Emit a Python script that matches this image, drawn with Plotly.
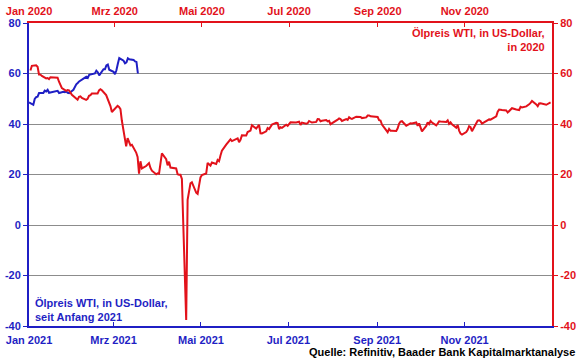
import plotly.graph_objects as go

# WTI 2020 (top axis, right y-axis)
red_dates = [
 "2020-01-02","2020-01-03","2020-01-06","2020-01-07","2020-01-08","2020-01-09","2020-01-10","2020-01-13","2020-01-14","2020-01-15","2020-01-16","2020-01-17","2020-01-21","2020-01-22","2020-01-23","2020-01-24","2020-01-27","2020-01-28","2020-01-29","2020-01-30","2020-01-31",
 "2020-02-03","2020-02-04","2020-02-05","2020-02-06","2020-02-07","2020-02-10","2020-02-11","2020-02-12","2020-02-13","2020-02-14","2020-02-18","2020-02-19","2020-02-20","2020-02-21","2020-02-24","2020-02-25","2020-02-26","2020-02-27","2020-02-28",
 "2020-03-02","2020-03-03","2020-03-04","2020-03-05","2020-03-06","2020-03-09","2020-03-10","2020-03-11","2020-03-12","2020-03-13","2020-03-16","2020-03-17","2020-03-18","2020-03-19","2020-03-20","2020-03-23","2020-03-24","2020-03-25","2020-03-26","2020-03-27","2020-03-30","2020-03-31",
 "2020-04-01","2020-04-02","2020-04-03","2020-04-06","2020-04-07","2020-04-08","2020-04-09","2020-04-13","2020-04-14","2020-04-15","2020-04-16","2020-04-17","2020-04-20","2020-04-21","2020-04-22","2020-04-23","2020-04-24","2020-04-27","2020-04-28","2020-04-29","2020-04-30",
 "2020-05-01","2020-05-04","2020-05-05","2020-05-06","2020-05-07","2020-05-08","2020-05-11","2020-05-12","2020-05-13","2020-05-14","2020-05-15","2020-05-18","2020-05-19","2020-05-20","2020-05-21","2020-05-22","2020-05-26","2020-05-27","2020-05-28","2020-05-29",
 "2020-06-01","2020-06-02","2020-06-03","2020-06-04","2020-06-05","2020-06-08","2020-06-09","2020-06-10","2020-06-11","2020-06-12","2020-06-15","2020-06-16","2020-06-17","2020-06-18","2020-06-19","2020-06-22","2020-06-23","2020-06-24","2020-06-25","2020-06-26","2020-06-29","2020-06-30",
 "2020-07-01","2020-07-02","2020-07-06","2020-07-07","2020-07-08","2020-07-09","2020-07-10","2020-07-13","2020-07-14","2020-07-15","2020-07-16","2020-07-17","2020-07-20","2020-07-21","2020-07-22","2020-07-23","2020-07-24","2020-07-27","2020-07-28","2020-07-29","2020-07-30","2020-07-31",
 "2020-08-03","2020-08-04","2020-08-05","2020-08-06","2020-08-07","2020-08-10","2020-08-11","2020-08-12","2020-08-13","2020-08-14","2020-08-17","2020-08-18","2020-08-19","2020-08-20","2020-08-21","2020-08-24","2020-08-25","2020-08-26","2020-08-27","2020-08-28","2020-08-31",
 "2020-09-01","2020-09-02","2020-09-03","2020-09-04","2020-09-08","2020-09-09","2020-09-10","2020-09-11","2020-09-14","2020-09-15","2020-09-16","2020-09-17","2020-09-18","2020-09-21","2020-09-22","2020-09-23","2020-09-24","2020-09-25","2020-09-28","2020-09-29","2020-09-30",
 "2020-10-01","2020-10-02","2020-10-05","2020-10-06","2020-10-07","2020-10-08","2020-10-09","2020-10-12","2020-10-13","2020-10-14","2020-10-15","2020-10-16","2020-10-19","2020-10-20","2020-10-21","2020-10-22","2020-10-23","2020-10-26","2020-10-27","2020-10-28","2020-10-29","2020-10-30",
 "2020-11-02","2020-11-03","2020-11-04","2020-11-05","2020-11-06","2020-11-09","2020-11-10","2020-11-11","2020-11-12","2020-11-13","2020-11-16","2020-11-17","2020-11-18","2020-11-19","2020-11-20","2020-11-23","2020-11-24","2020-11-25","2020-11-27","2020-11-30",
 "2020-12-01","2020-12-02","2020-12-03","2020-12-04","2020-12-07","2020-12-08","2020-12-09","2020-12-10","2020-12-11","2020-12-14","2020-12-15","2020-12-16","2020-12-17","2020-12-18","2020-12-21","2020-12-22","2020-12-23","2020-12-24","2020-12-28","2020-12-29","2020-12-30","2020-12-31",
]
red_values = [
 61.18,63.05,63.27,62.70,59.61,59.56,59.04,58.08,58.23,57.81,58.52,58.54,58.34,56.74,55.59,54.19,53.14,53.48,53.33,52.14,51.56,
 50.11,49.61,50.75,50.95,50.32,49.57,49.94,51.17,51.42,52.05,52.05,53.29,53.78,53.38,51.43,49.90,48.73,47.09,44.76,
 46.75,47.18,46.78,45.90,41.28,31.13,34.36,32.98,31.50,31.73,28.70,26.95,20.37,25.22,22.43,23.36,24.01,24.49,22.60,21.51,20.09,20.48,
 20.31,25.32,28.34,26.08,23.63,25.09,22.76,22.41,20.11,19.87,19.87,18.27,-37.63,10.01,13.78,16.50,16.94,12.78,12.34,15.06,18.84,
 19.78,20.39,24.56,23.99,23.55,24.74,24.14,25.78,25.29,27.56,29.43,31.82,32.50,33.49,33.92,33.25,34.35,32.81,33.71,35.49,
 35.44,36.81,37.29,37.41,39.55,38.19,38.94,39.60,36.34,36.26,37.12,38.38,37.96,38.84,39.75,40.46,40.37,38.01,38.72,38.49,39.70,39.27,
 39.82,40.65,40.63,40.62,40.90,39.62,40.55,40.10,40.29,41.20,40.75,40.59,40.81,41.96,41.90,41.07,41.29,41.60,41.04,41.27,39.92,40.27,
 41.01,41.70,42.19,41.95,41.22,41.94,41.61,42.67,42.24,42.01,42.89,42.89,42.93,42.82,42.34,42.62,43.35,43.39,43.04,42.97,42.61,
 42.76,41.51,41.37,39.77,36.76,38.05,37.30,37.33,37.26,38.28,40.16,40.97,41.11,39.31,39.80,39.93,40.31,40.25,40.60,39.29,40.22,
 38.72,37.05,39.22,40.67,39.95,41.19,40.60,39.43,40.20,41.04,40.96,40.88,40.83,41.46,40.03,40.64,39.85,38.56,39.57,37.39,36.17,35.79,
 36.81,37.66,39.15,38.79,37.14,40.29,41.36,41.45,41.12,40.13,41.34,41.43,41.82,41.74,42.15,43.06,44.91,45.71,45.53,45.34,
 44.55,45.28,45.64,46.26,45.76,45.60,45.52,46.78,46.57,46.99,47.62,47.82,48.36,49.10,47.74,47.02,48.12,48.23,47.62,48.00,48.40,48.52,
]

# WTI since start of 2021 (bottom axis, left y-axis)
blue_dates = [
 "2021-01-01","2021-01-04","2021-01-05","2021-01-06","2021-01-07","2021-01-08","2021-01-11","2021-01-12","2021-01-13","2021-01-14","2021-01-15","2021-01-19","2021-01-20","2021-01-21","2021-01-22","2021-01-25","2021-01-26","2021-01-27","2021-01-28","2021-01-29",
 "2021-02-01","2021-02-02","2021-02-03","2021-02-04","2021-02-05","2021-02-08","2021-02-09","2021-02-10","2021-02-11","2021-02-12","2021-02-16","2021-02-17","2021-02-18","2021-02-19","2021-02-22","2021-02-23","2021-02-24","2021-02-25","2021-02-26",
 "2021-03-01","2021-03-02","2021-03-03","2021-03-04","2021-03-05","2021-03-08","2021-03-09","2021-03-10","2021-03-11","2021-03-12","2021-03-15","2021-03-16","2021-03-17","2021-03-18",
]
blue_values = [
 48.52,47.62,49.93,50.63,50.83,52.24,52.25,53.21,52.91,53.57,52.36,52.98,53.24,53.13,52.27,52.77,52.61,52.85,52.34,52.20,
 53.55,54.76,55.69,56.23,56.85,57.97,58.36,58.68,58.24,59.47,60.05,61.14,60.52,59.24,61.70,61.67,63.22,63.53,61.50,
 60.64,59.75,61.28,63.83,66.09,65.05,64.01,64.44,66.02,65.61,65.39,64.80,64.60,60.00,
]

top_tickvals = ["2020-01-01","2020-03-01","2020-05-01","2020-07-01","2020-09-01","2020-11-01"]
top_ticktext = ["Jan 2020","Mrz 2020","Mai 2020","Jul 2020","Sep 2020","Nov 2020"]
bot_tickvals = ["2021-01-01","2021-03-01","2021-05-01","2021-07-01","2021-09-01","2021-11-01"]
bot_ticktext = ["Jan 2021","Mrz 2021","Mai 2021","Jul 2021","Sep 2021","Nov 2021"]
y_tickvals = [-40, -20, 0, 20, 40, 60, 80]
y_ticktext = ["-40", "-20", "0", "20", "40", "60", "80"]

RED = "#E2121B"
BLUE = "#1F1FC4"
FONT = "Liberation Sans, Arial, sans-serif"

fig = go.Figure()
fig.add_trace(go.Scatter(x=red_dates, y=red_values, mode="lines",
                         line=dict(color=RED, width=2), xaxis="x2", yaxis="y2"))
fig.add_trace(go.Scatter(x=blue_dates, y=blue_values, mode="lines",
                         line=dict(color=BLUE, width=2), xaxis="x", yaxis="y"))

fig.update_layout(
    width=580, height=359,
    margin=dict(l=29, r=28, t=23, b=33),
    paper_bgcolor="white", plot_bgcolor="white",
    showlegend=False,
    font=dict(family=FONT, size=11),
    xaxis=dict(type="date", range=["2021-01-01", "2022-01-01"], automargin=False,
               tickvals=bot_tickvals, ticktext=bot_ticktext,
               showgrid=False, zeroline=False,
               showline=True, linecolor=BLUE, linewidth=2,
               ticks="inside", ticklen=4, tickcolor=BLUE, ticklabelstandoff=3,
               tickfont=dict(color=BLUE, size=11, family=FONT, weight="bold")),
    xaxis2=dict(type="date", range=["2020-01-01", "2021-01-01"], automargin=False,
                overlaying="x", side="top",
                tickvals=top_tickvals, ticktext=top_ticktext,
                showgrid=False, zeroline=False,
                showline=True, linecolor=RED, linewidth=2,
                ticks="inside", ticklen=4, tickcolor=RED, ticklabelstandoff=2,
                tickfont=dict(color=RED, size=11, family=FONT, weight="bold")),
    yaxis=dict(range=[-40, 80], tickvals=y_tickvals, ticktext=y_ticktext, automargin=False,
               showgrid=True, gridcolor="#8C8C8C", gridwidth=1, zeroline=False,
               showline=True, linecolor=BLUE, linewidth=2,
               ticks="outside", ticklen=4, tickcolor=BLUE,
               tickfont=dict(color=BLUE, size=11, family=FONT, weight="bold")),
    yaxis2=dict(range=[-40, 80], tickvals=y_tickvals, ticktext=y_ticktext, automargin=False,
                overlaying="y", side="right",
                showgrid=False, zeroline=False,
                showline=True, linecolor=RED, linewidth=2,
                ticks="outside", ticklen=4, tickcolor=RED,
                tickfont=dict(color=RED, size=11, family=FONT, weight="bold")),
)

fig.add_annotation(xref="paper", yref="paper", x=0.99, y=0.992,
                   xanchor="right", yanchor="top", align="right", showarrow=False,
                   text="Ölpreis WTI, in US-Dollar,<br>in 2020",
                   font=dict(color=RED, size=11, family=FONT, weight="bold"))
fig.add_annotation(xref="paper", yref="paper", x=0.008, y=0.004,
                   xanchor="left", yanchor="bottom", align="left", showarrow=False,
                   text="Ölpreis WTI, in US-Dollar,<br>seit Anfang 2021",
                   font=dict(color=BLUE, size=11, family=FONT, weight="bold"))
fig.add_annotation(xref="paper", yref="paper", x=1.048, y=-0.086,
                   xanchor="right", yanchor="middle", align="right", showarrow=False,
                   text="Quelle: Refinitiv, Baader Bank Kapitalmarktanalyse",
                   font=dict(color="black", size=11, family=FONT, weight="bold"))

fig.write_html("out.html", config={"displayModeBar": False},
               post_script="document.body.style.margin='0';document.body.style.overflow='hidden';")
